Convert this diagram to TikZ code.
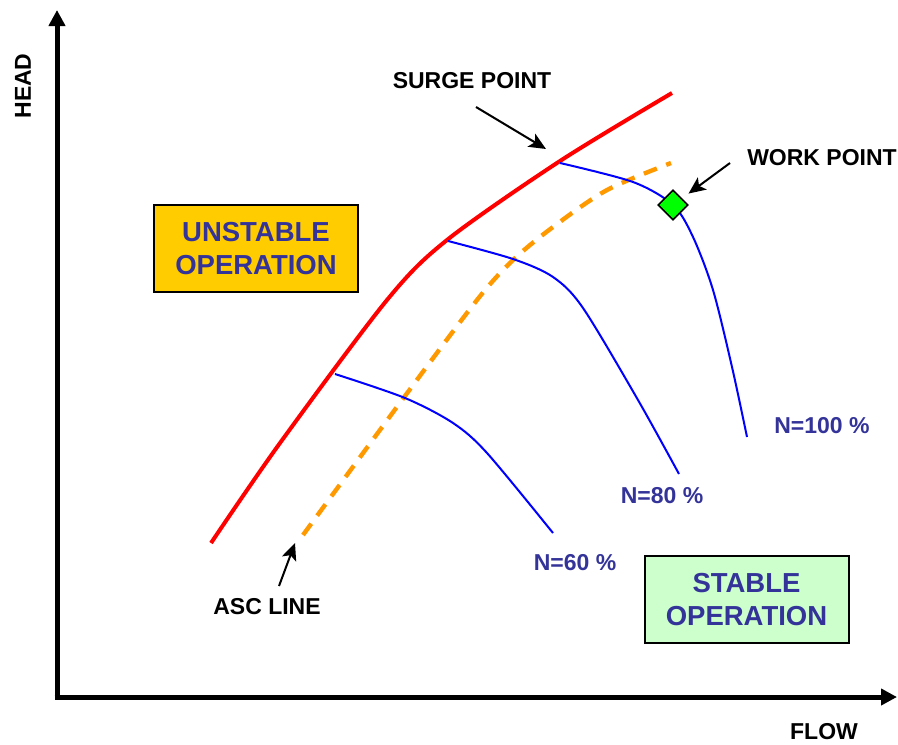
\documentclass[tikz,border=0pt]{standalone}
\usepackage{fontspec}
\setmainfont{Liberation Sans}
\usetikzlibrary{arrows.meta,shapes.geometric}
\definecolor{navy}{HTML}{333399}
\definecolor{surgered}{HTML}{FF0000}
\definecolor{ascorange}{HTML}{FF9900}
\definecolor{speedblue}{HTML}{0000FF}
\definecolor{unstabfill}{HTML}{FFCC00}
\definecolor{stabfill}{HTML}{CCFFCC}
\definecolor{workgreen}{HTML}{00FF00}

\begin{document}
\begin{tikzpicture}[x=0.5pt,y=-0.5pt,>={Stealth[length=8.5pt,width=7.5pt,inset=2pt]},
  lbl/.style={font=\bfseries\fontsize{11.5}{13}\selectfont},
  speedlbl/.style={lbl,text=navy},
  region/.style={draw,line width=1pt,text=navy,align=center,
    minimum width=102pt,minimum height=43.5pt,
    font=\bfseries\fontsize{13.75}{16.5}\selectfont},
  speedline/.style={speedblue,line width=1pt}]
  \useasboundingbox (0,0) rectangle (898,744);
  % axes
  \coordinate (O) at (57,697);
  \coordinate (ytip) at (57,10);
  \coordinate (xtip) at (897,697);
  \draw[line width=2.5pt,-{Triangle[length=8pt,width=8pt]}] ([yshift=1.25pt]O) -- (ytip);
  \draw[line width=2.5pt,-{Triangle[length=8pt,width=8pt]}] ([xshift=-1.25pt]O) -- (xtip);
  \node[lbl,rotate=90] (head) at (23,86) {HEAD};
  \node[lbl] (flow) at (824,732) {FLOW};
  % surge line and asc line
  \draw[surgered,line width=2pt] plot[smooth] coordinates
    {(211,543) (280,443) (387,300) (447,240) (560,161) (672,93)};
  \draw[ascorange,line width=2.2pt,dash pattern=on 7pt off 5pt] plot[smooth] coordinates
    {(303,535) (405,396) (477,300) (513,260) (553,227) (607,190) (671,163)};
  % speed lines
  \draw[speedline] plot[smooth] coordinates
    {(335,374) (405,398) (453,423) (487,453) (553,533)};
  \draw[speedline] plot[smooth] coordinates
    {(448,241) (513,259) (553,277) (583,308) (638,400) (679,474)};
  \draw[speedline] plot[smooth] coordinates
    {(560,163) (633,182) (673,205) (693,237) (713,290) (732,367) (747,437)};
  \node[speedlbl] (n60) at (575,563) {N=60 \%};
  \node[speedlbl] (n80) at (662,496) {N=80 \%};
  \node[speedlbl] (n100) at (822,426) {N=100 \%};
  % work point
  \node[diamond,draw,line width=0.8pt,fill=workgreen,inner sep=0pt,minimum size=15pt] (wp) at (673,205) {};
  % regions
  \node[region,fill=unstabfill] (unstable) at (256,248.5) {UNSTABLE\\OPERATION};
  \node[region,fill=stabfill] (stable) at (746.5,599.5) {STABLE\\OPERATION};
  % annotations
  \node[lbl] (surgelbl) at (472,81) {SURGE POINT};
  \coordinate (stail) at (476,107);
  \coordinate (shead) at (546,149);
  \draw[->,line width=1pt] (stail) -- (shead);
  \node[lbl] (worklbl) at (822,158) {WORK POINT};
  \coordinate (wtail) at (730,163);
  \draw[->,line width=1pt,shorten >=4pt] (wtail) -- (wp);
  \node[lbl] (asclbl) at (267,607) {ASC LINE};
  \coordinate (atail) at (279,586);
  \coordinate (ahead) at (295,543);
  \draw[->,line width=1pt] (atail) -- (ahead);
\end{tikzpicture}
\end{document}
